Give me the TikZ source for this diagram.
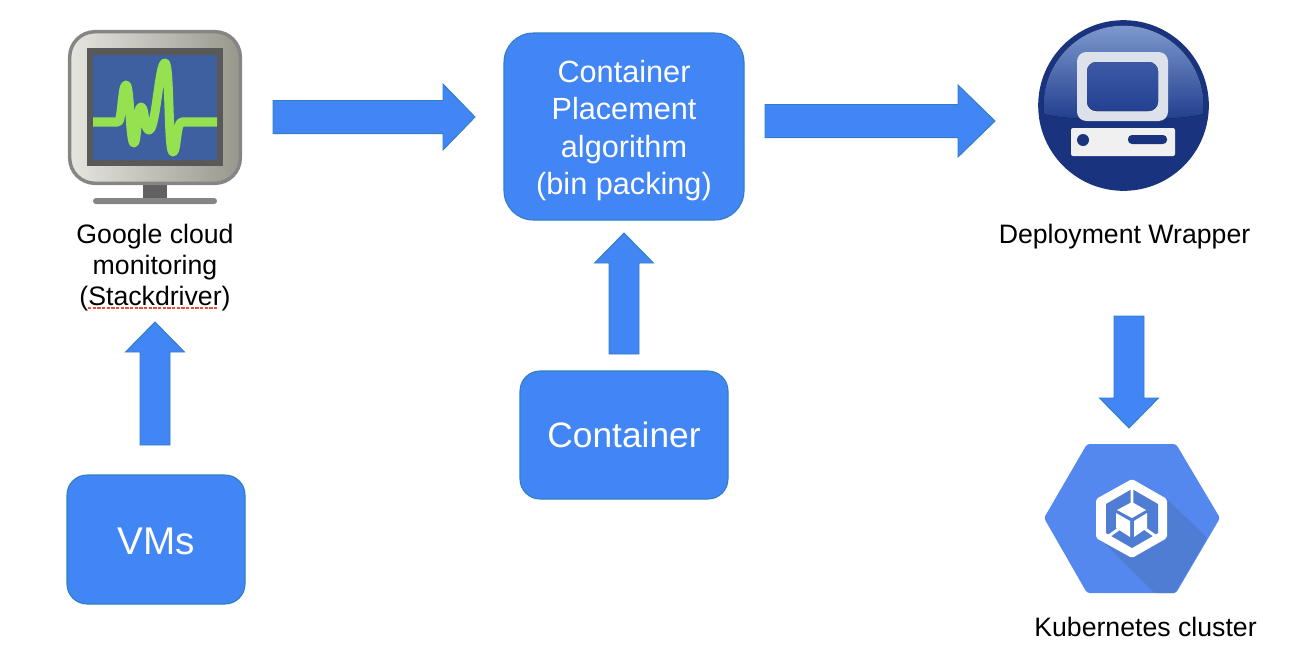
\documentclass[tikz,border=0pt]{standalone}
\usepackage{fontspec}
\setmainfont{Liberation Sans}
\usetikzlibrary{calc}

\definecolor{flowfill}{HTML}{4285F4}
\definecolor{flowline}{HTML}{2F7FC1}
\definecolor{hexblue}{HTML}{5488EE}
\definecolor{hexshade}{HTML}{4F7DD3}
\definecolor{pcdark}{HTML}{1A337E}
\definecolor{screenblue}{HTML}{3E60A0}
\definecolor{tracegreen}{HTML}{96E150}
\definecolor{pcpale}{HTML}{DDE2EA}
\definecolor{bezellight}{HTML}{E6E6E0}
\definecolor{bezeldark}{HTML}{97978C}

\tikzset{
  procbox/.style={draw=flowline,fill=flowfill,line width=0.8pt,inner sep=0pt},
  boxtext/.style={text=white,align=center,inner sep=0pt},
  caption/.style={text=black,align=center,inner sep=0pt,font=\fontsize{20}{23.25}\selectfont},
  flow/.style n args={3}{draw=flowline,fill=flowfill,line width=0.7pt,to path={
    let \p1=($(\tikztotarget)!#3!(\tikztostart)$) in
    ($(\tikztostart)!#1!90:(\tikztotarget)$) -- ($(\p1)!#1!90:(\tikztotarget)$) -- ($(\p1)!#2!90:(\tikztotarget)$)
    -- (\tikztotarget) -- ($(\p1)!#2!-90:(\tikztotarget)$) -- ($(\p1)!#1!-90:(\tikztotarget)$)
    -- ($(\tikztostart)!#1!-90:(\tikztotarget)$) -- cycle}}
}

\begin{document}
\begin{tikzpicture}[x=0.75pt,y=-0.75pt]
\useasboundingbox (0,0) rectangle (1316,654);

% boxes
\node[procbox,minimum width=133.5pt,minimum height=96.75pt,rounded corners=15pt] (vms) at (156,539.5) {};
\node[procbox,minimum width=156pt,minimum height=96pt,rounded corners=15pt] (container) at (624,435) {};
\node[procbox,minimum width=180pt,minimum height=140.25pt,rounded corners=22pt] (algo) at (624,126.5) {};
\node[boxtext,font=\fontsize{29}{33}\selectfont] (vmstext) at ([yshift=-1.5pt]vms.center) {VMs};
\node[boxtext,font=\fontsize{26.5}{30}\selectfont] (containertext) at (container.center) {Container};
\node[boxtext,font=\fontsize{23}{28.1}\selectfont] (algotext) at ([yshift=-3.2pt]algo.center) {Container\\Placement\\algorithm\\(bin packing)};

% captions
\node[caption] (monitorlabel) at (155,268) {Google cloud\\monitoring\\(Stackdriver)};
\node[caption] (wrapperlabel) at (1124.5,237) {Deployment Wrapper};
\node[caption] (k8slabel) at (1145.5,627) {Kubernetes cluster};
\draw[color={rgb,255:red,232;green,80;blue,60},line width=1.6pt,dash pattern=on 2.4pt off 1.1pt] (88,308) -- (218,308);

% monitor
\fill[black!62] (143,183) rectangle (167,199);
\fill[black!48,rounded corners=2.2pt] (93,198) rectangle (217,204);
\draw[draw=black!48,line width=2.6pt,rounded corners=19pt,shading angle=115,left color=bezellight,right color=bezeldark] (69.7,31.7) rectangle (240.3,183.3);
\fill[black!65] (87,48) rectangle (223,166);
\fill[screenblue] (93,55) rectangle (217,160);
\draw[tracegreen,line width=6.8pt,line join=round]
  (93,122) -- (118,122) .. controls (122,122) and (122,85) .. (126,85)
  .. controls (130,85) and (130,143) .. (134,143)
  .. controls (137,143) and (137,107) .. (141,107)
  .. controls (145,107) and (144,130) .. (149,130)
  .. controls (156,130) and (159,63) .. (165,63)
  .. controls (170,63) and (168,152) .. (173,152)
  .. controls (177,152) and (176,122) .. (182,122) -- (217,122);

% computer badge
\fill[pcdark] (1123.5,105.5) circle[radius=64pt];
\fill[top color={rgb,255:red,128;green,155;blue,208},bottom color={rgb,255:red,30;green,60;blue,140}]
  (1044,114) arc[start angle=186,end angle=-6,radius=60pt] .. controls (1175,122) and (1072,122) .. (1044,114) -- cycle;
\fill[pcpale,rounded corners=7pt] (1077,52) rectangle (1168,121);
\fill[top color={rgb,255:red,60;green,90;blue,165},bottom color={rgb,255:red,35;green,65;blue,145},rounded corners=7pt] (1087,62) rectangle (1158,111);
\fill[black!6,rounded corners=1.5pt] (1071,128) rectangle (1175,156);
\fill[pcdark] (1083,140) circle[radius=4.5pt];
\fill[pcdark,rounded corners=3pt] (1128,135) rectangle (1167,144);

% kubernetes hexagon
\fill[hexblue,rounded corners=2pt] (1044,518) -- (1087,444) -- (1176,444) -- (1220,518) -- (1176,593) -- (1087,593) -- cycle;
\fill[hexshade,rounded corners=1pt] (1167,499) -- (1207,538) -- (1175,593) -- (1155,593) -- (1102,541) -- cycle;
\fill[white,rounded corners=1.5pt] (1132,479) -- (1167,499) -- (1167,538) -- (1132,558) -- (1096,538) -- (1096,499) -- cycle;
\fill[hexshade] (1132,489) -- (1158,504) -- (1158,533) -- (1132,548) -- (1106,533) -- (1106,504) -- cycle;
\draw[white,line width=2.2pt] (1132,489) -- (1132,510) (1106,538) -- (1120,528) (1158,538) -- (1144,528);
\fill[white] (1132,502) -- (1146,510) -- (1132,518) -- (1117,510) -- cycle;
\fill[white] (1116,513) -- (1130,521) -- (1130,537) -- (1116,528) -- cycle;
\fill[white] (1134,521) -- (1147,513) -- (1147,528) -- (1134,537) -- cycle;

% connectors
\coordinate (m1) at (273,117);   \coordinate (m2) at (475,117);
\coordinate (w1) at (765,121);   \coordinate (w2) at (995,121);
\coordinate (v1) at (155,445);   \coordinate (v2) at (155,322);
\coordinate (c1) at (624,354);   \coordinate (c2) at (624,233);
\coordinate (k1) at (1129,316);  \coordinate (k2) at (1129,428);
\draw[flow={12.4pt}{24.75pt}{24pt}] (m1) to (m2);
\draw[flow={12.4pt}{27pt}{27.75pt}] (w1) to (w2);
\draw[flow={11.25pt}{22.1pt}{22.5pt}] (v1) to (v2);
\draw[flow={11.25pt}{22.1pt}{22.5pt}] (c1) to (c2);
\draw[flow={11.25pt}{22.1pt}{22.5pt}] (k1) to (k2);
\end{tikzpicture}
\end{document}
